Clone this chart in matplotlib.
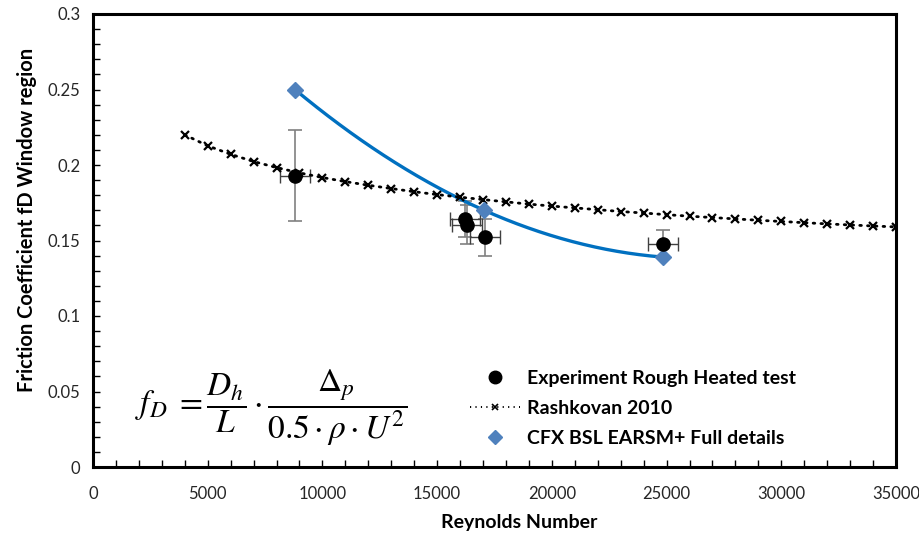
import numpy as np
import matplotlib
matplotlib.use("Agg")
import matplotlib.pyplot as plt
from matplotlib.lines import Line2D

plt.rcParams['font.family'] = ['Lato', 'DejaVu Sans']
plt.rcParams['mathtext.fontset'] = 'stix'

# Rashkovan 2010 correlation, sampled every 1000
rash_re = list(range(4000, 35001, 1000))
rash_f = [0.2200, 0.2127, 0.2071, 0.2023, 0.1983, 0.1948, 0.1917, 0.1890,
          0.1866, 0.1844, 0.1823, 0.1804, 0.1787, 0.1771, 0.1756, 0.1741,
          0.1728, 0.1716, 0.1704, 0.1692, 0.1682, 0.1671, 0.1661, 0.1652,
          0.1643, 0.1634, 0.1626, 0.1618, 0.1610, 0.1603, 0.1596, 0.1590]

# Experiment, rough heated test
exp_re = [8800, 16230, 16300, 17100, 24850]
exp_f = [0.193, 0.164, 0.1605, 0.152, 0.148]
exp_re_err = [650, 650, 650, 650, 650]
exp_f_err = [0.030, 0.012, 0.013, 0.0125, 0.009]

# CFX BSL EARSM+ full details
cfx_re = [8800, 17050, 24850]
cfx_f = [0.250, 0.170, 0.139]

fig = plt.figure(figsize=(9.19, 5.35), dpi=100)
ax = fig.add_axes([93 / 919, (535 - 467) / 535, 803 / 919, 453 / 535])

# Experiment error bars
ax.errorbar(exp_re, exp_f, yerr=exp_f_err, fmt='none', ecolor='#808080',
            elinewidth=1.2, capsize=5, capthick=1.2, zorder=3)
ax.errorbar(exp_re, exp_f, xerr=exp_re_err, fmt='none', ecolor='#404040',
            elinewidth=1.0, capsize=5, capthick=1.0, zorder=3)

# Quadratic trendline through the CFX results
coef = np.polyfit(cfx_re, cfx_f, 2)
tx = np.linspace(cfx_re[0], cfx_re[-1], 200)
ax.plot(tx, np.polyval(coef, tx), color='#0070C0', lw=2.4, zorder=4,
        solid_capstyle='round')

ax.plot(rash_re, rash_f, color='black', lw=2.0, linestyle=(0, (0.6, 2.2)),
        dash_capstyle='round', marker='x', markersize=5.5,
        markeredgewidth=1.6, zorder=5)
ax.plot(exp_re, exp_f, 'o', color='black', markersize=9.5, zorder=6)
ax.plot(cfx_re, cfx_f, 'D', color='#4F81BD', markersize=8, zorder=5)

ax.set_xlim(0, 35000)
ax.set_ylim(0, 0.3)
ax.set_xticks(np.arange(0, 35001, 5000))
ax.set_xticklabels([str(v) for v in range(0, 35001, 5000)])
ax.set_yticks([0, 0.05, 0.1, 0.15, 0.2, 0.25, 0.3])
ax.set_yticklabels(['0', '0.05', '0.1', '0.15', '0.2', '0.25', '0.3'])
ax.set_xticks(np.arange(0, 35001, 1000), minor=True)
ax.set_yticks(np.arange(0, 0.3001, 0.01), minor=True)
ax.tick_params(which='both', direction='in', colors='black', labelcolor='#262626',
               labelsize=12)
ax.tick_params(which='major', length=5, width=1.0)
ax.tick_params(which='minor', length=5, width=1.0)
ax.tick_params(axis='x', pad=14)
ax.tick_params(axis='y', pad=9)
for s in ax.spines.values():
    s.set_linewidth(2.2)
    s.set_color('black')

ax.set_xlabel('Reynolds Number', fontsize=14, fontweight='bold', labelpad=9)
ax.set_ylabel('Friction Coefficient fD Window region', fontsize=14.5,
              fontweight='bold', labelpad=8)
ax.xaxis.set_label_coords(0.5305, -0.104)
ax.yaxis.get_label().set_y(0.545)

ax.text(7750, 0.039,
        r'$f_D\;=\dfrac{D_h}{L}\cdot\dfrac{\Delta_p}{0.5\cdot\rho\cdot U^2}$',
        fontsize=24, ha='center', va='center')

handles = [
    Line2D([], [], linestyle='none', marker='o', color='black', markersize=9),
    Line2D([], [], color='black', lw=1.4, linestyle=(0, (0.6, 2.2)),
           marker='x', markersize=4.5, markeredgewidth=1.2),
    Line2D([], [], linestyle='none', marker='D', color='#4F81BD', markersize=7),
]
labels = ['Experiment Rough Heated test', 'Rashkovan 2010',
          'CFX BSL EARSM+ Full details']
leg = ax.legend(handles, labels, loc='upper left',
                bbox_to_anchor=(460 / 919, (535 - 360) / 535),
                bbox_transform=fig.transFigure, frameon=False,
                prop={'weight': 'bold', 'size': 14}, handlelength=2.6,
                handletextpad=0.35, labelspacing=0.68, borderpad=0)

fig.savefig('out.png', dpi=100)
